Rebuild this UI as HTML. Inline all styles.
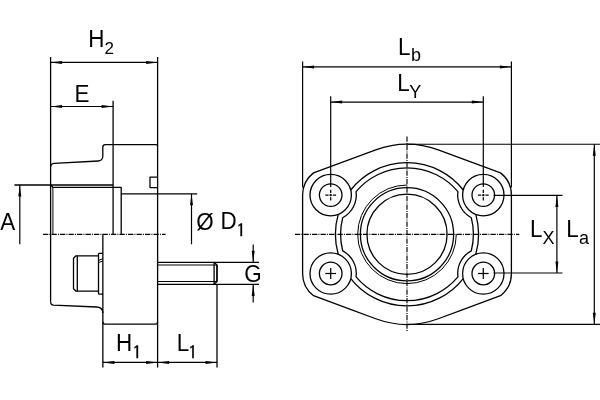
<!DOCTYPE html>
<html><head><meta charset="utf-8"><title>Flange drawing</title>
<style>
html,body{margin:0;padding:0;background:#fff;}
svg{display:block;}
.o{fill:none;stroke:#000;stroke-width:1.3;stroke-linecap:butt;stroke-linejoin:round;}
.t{fill:none;stroke:#000;stroke-width:1.0;}
.d{fill:none;stroke:#000;stroke-width:1.2;}
.x{fill:none;stroke:#000;stroke-width:1.25;stroke-dasharray:3.3 0.9 2.4 0.9 3.3;}
.c{fill:none;stroke:#000;stroke-width:1.15;stroke-dasharray:5.3 1.1 1 1.1;}
.s{stroke-dasharray:none;}
.a{fill:#000;stroke:none;}
text{font-family:"Liberation Sans",sans-serif;fill:#000;}
text.n{font-family:"IPAGothic","Liberation Sans",sans-serif;stroke:#000;stroke-width:0.35;}
</style></head><body>
<svg width="600" height="400" viewBox="0 0 600 400">
<rect width="600" height="400" fill="#fff"/>
<g style="opacity:0.999">
<line class="o" x1="50.6" y1="57" x2="50.6" y2="301.5"/>
<line class="o" x1="157.6" y1="57" x2="157.6" y2="367.5"/>
<line class="o" x1="113.1" y1="100.8" x2="113.1" y2="234.3"/>
<line class="o" x1="102.85" y1="234.3" x2="102.85" y2="367.5"/>
<line class="o" x1="217" y1="284.4" x2="217" y2="367.5"/>
<path class="o" d="M50.6 167 Q50.6 163.6 54 163.3 L98.3 161.0 Q102.7 160.7 102.8 156.3 L102.8 147.2 Q102.8 144.7 105.6 144.7 L156.1 144.7 Q157.6 144.7 157.6 146"/>
<path class="o" d="M50.6 301.5 Q50.6 305 53.6 305.2 L96.5 307.0 Q102.85 307.2 102.85 313"/>
<path class="o" d="M102.85 321.7 Q102.85 324.2 105.35 324.2 L155.1 324.2 Q157.6 324.2 157.6 321.7"/>
<line class="o" x1="14.4" y1="185" x2="113.1" y2="185"/>
<path class="o" d="M51 185 L52.8 187.3 L121.2 187.3 L121.2 234.3"/>
<line class="t" x1="52.9" y1="187.3" x2="52.9" y2="234.3"/>
<line class="o" x1="121.2" y1="193.8" x2="197.2" y2="193.8"/>
<path class="o" d="M157.6 177.2 L150 177.2 L150 187.6 L157.6 187.6"/>
<line class="c" x1="43" y1="234.3" x2="165.5" y2="234.3"/>
<path class="o" d="M98.5 255.8 L76 255.8 L73.5 258.3 L73.5 288.7 L76 291.2 L98.5 291.2"/>
<line class="o" x1="77.3" y1="255.8" x2="77.3" y2="291.2"/>
<line class="o" x1="98.5" y1="253.3" x2="98.5" y2="294.2"/>
<path class="o" d="M102.85 253.3 L98.5 253.3 M98.5 294.2 L102.85 294.2"/>
<path class="t" d="M98.5 260.3 L102.85 258.8 M98.5 262.6 L102.85 261.0"/>
<path class="o" d="M157.6 262.3 L259 262.3 M157.6 284.4 L259 284.4"/>
<path class="t" d="M157.6 265 L217.0 265 M157.6 281.5 L217.0 281.5"/>
<path class="o" d="M214.1 262.3 L217.0 265 L217.0 281.5 L214.1 284.4"/>
<line class="o" x1="214.1" y1="262.3" x2="214.1" y2="284.4"/>
<line class="o" x1="217" y1="265" x2="217" y2="281.5"/>
<line class="d" x1="50.6" y1="62.4" x2="157.6" y2="62.4"/>
<polygon class="a" points="50.6,62.4 62.1,60.9 62.1,63.9"/>
<polygon class="a" points="157.6,62.4 146.1,63.9 146.1,60.9"/>
<line class="d" x1="50.6" y1="106.5" x2="113.1" y2="106.5"/>
<polygon class="a" points="50.6,106.5 62.1,105 62.1,108"/>
<polygon class="a" points="113.1,106.5 101.6,108 101.6,105"/>
<line class="d" x1="19.8" y1="185" x2="19.8" y2="244.3"/>
<polygon class="a" points="19.8,185 21.3,196.5 18.3,196.5"/>
<line class="d" x1="191.5" y1="193.8" x2="191.5" y2="244.3"/>
<polygon class="a" points="191.5,193.8 193,205.3 190,205.3"/>
<line class="d" x1="253.2" y1="244.5" x2="253.2" y2="262.3"/>
<polygon class="a" points="253.2,262.3 251.7,250.8 254.7,250.8"/>
<line class="d" x1="253.2" y1="284.4" x2="253.2" y2="302.5"/>
<polygon class="a" points="253.2,284.4 254.7,295.9 251.7,295.9"/>
<line class="d" x1="102.85" y1="362.4" x2="217" y2="362.4"/>
<polygon class="a" points="102.85,362.4 114.35,360.9 114.35,363.9"/>
<polygon class="a" points="157.6,362.4 146.1,363.9 146.1,360.9"/>
<polygon class="a" points="157.6,362.4 169.1,360.9 169.1,363.9"/>
<polygon class="a" points="217,362.4 205.5,363.9 205.5,360.9"/>
<path class="o" d="M302.6 195.1 A28.1 28.1 0 0 1 313.51 172.87 L375.76 149.84 A90.05 90.05 0 0 1 438.24 149.84 L500.49 172.87 A28.1 28.1 0 0 1 511.4 195.1 L511.4 273.5 A28.1 28.1 0 0 1 500.49 295.73 L438.24 318.76 A90.05 90.05 0 0 1 375.76 318.76 L313.51 295.73 A28.1 28.1 0 0 1 302.6 273.5 Z"/>
<circle class="o" cx="330.7" cy="195.1" r="20.7"/>
<circle class="o" cx="330.7" cy="195.1" r="11.3"/>
<line class="x" x1="325.3" y1="195.1" x2="336.1" y2="195.1"/>
<line class="x" x1="330.7" y1="189.7" x2="330.7" y2="200.5"/>
<circle class="o" cx="483.3" cy="195.1" r="20.7"/>
<circle class="o" cx="483.3" cy="195.1" r="11.3"/>
<line class="x" x1="477.9" y1="195.1" x2="488.7" y2="195.1"/>
<line class="x" x1="483.3" y1="189.7" x2="483.3" y2="200.5"/>
<circle class="o" cx="330.7" cy="273.5" r="20.7"/>
<circle class="o" cx="330.7" cy="273.5" r="11.3"/>
<line class="x s" x1="325.3" y1="273.5" x2="336.1" y2="273.5"/>
<line class="x s" x1="330.7" y1="268.1" x2="330.7" y2="278.9"/>
<circle class="o" cx="483.3" cy="273.5" r="20.7"/>
<circle class="o" cx="483.3" cy="273.5" r="11.3"/>
<line class="x s" x1="477.9" y1="273.5" x2="488.7" y2="273.5"/>
<line class="x s" x1="483.3" y1="268.1" x2="483.3" y2="278.9"/>
<path class="o" d="M350.76 189.99 A71.6 71.6 0 0 1 463.24 189.99"/>
<path class="o" d="M350.76 278.61 A71.6 71.6 0 0 0 463.24 278.61"/>
<path class="o" d="M338.23 214.38 A71.6 71.6 0 0 0 338.23 254.22"/>
<path class="o" d="M475.77 214.38 A71.6 71.6 0 0 1 475.77 254.22"/>
<path class="o" d="M356.07 191.69 A66.4 66.4 0 0 1 457.93 191.69 A25.6 25.6 0 0 0 471.29 217.71 A66.4 66.4 0 0 1 471.29 250.89 A25.6 25.6 0 0 0 457.93 276.91 A66.4 66.4 0 0 1 356.07 276.91 A25.6 25.6 0 0 0 342.71 250.89 A66.4 66.4 0 0 1 342.71 217.71 A25.6 25.6 0 0 0 356.07 191.69 Z"/>
<circle class="o" cx="407" cy="234.3" r="46.6"/>
<circle class="o" cx="407" cy="234.3" r="40.1"/>
<path class="t" d="M407 185 A49.3 49.3 0 1 0 456.3 234.3"/>
<line class="c" x1="295" y1="234.3" x2="519.3" y2="234.3"/>
<line class="c" x1="407" y1="136.5" x2="407" y2="331.6"/>
<line class="d" x1="302.6" y1="61.5" x2="302.6" y2="187.5"/>
<line class="d" x1="511.4" y1="61.5" x2="511.4" y2="187.5"/>
<line class="d" x1="330.7" y1="96.2" x2="330.7" y2="187"/>
<line class="d" x1="483.3" y1="96.2" x2="483.3" y2="187"/>
<line class="d" x1="302.6" y1="66.9" x2="511.4" y2="66.9"/>
<polygon class="a" points="302.6,66.9 314.1,65.4 314.1,68.4"/>
<polygon class="a" points="511.4,66.9 499.9,68.4 499.9,65.4"/>
<line class="d" x1="330.7" y1="102.1" x2="483.3" y2="102.1"/>
<polygon class="a" points="330.7,102.1 342.2,100.6 342.2,103.6"/>
<polygon class="a" points="483.3,102.1 471.8,103.6 471.8,100.6"/>
<line class="d" x1="407" y1="144.25" x2="600" y2="144.25"/>
<line class="d" x1="407" y1="324.35" x2="600" y2="324.35"/>
<line class="d" x1="594.3" y1="144.25" x2="594.3" y2="324.35"/>
<polygon class="a" points="594.3,144.25 595.8,155.75 592.8,155.75"/>
<polygon class="a" points="594.3,324.35 592.8,312.85 595.8,312.85"/>
<line class="d" x1="493.6" y1="195.4" x2="562.5" y2="195.4"/>
<line class="d" x1="493.6" y1="273" x2="562.5" y2="273"/>
<line class="d" x1="556.9" y1="195.4" x2="556.9" y2="273"/>
<polygon class="a" points="556.9,195.4 558.4,206.9 555.4,206.9"/>
<polygon class="a" points="556.9,273 555.4,261.5 558.4,261.5"/>
<text transform="translate(88.2 47.2) scale(0.955 1)" font-size="23.5">H</text>
<text x="104.6" y="54.4" font-size="17">2</text>
<text transform="translate(74.4 101.7) scale(0.955 1)" font-size="23.5">E</text>
<text transform="translate(0.2 229.6) scale(0.955 1)" font-size="23.5">A</text>
<text transform="translate(196.3 229.6) scale(0.955 1)" font-size="23.5">Ø</text>
<text transform="translate(220.5 229.4) scale(0.955 1)" font-size="23.5">D</text>
<text class="n" x="236.5" y="237.2" font-size="18">1</text>
<text transform="translate(244.2 282) scale(0.955 1)" font-size="23.5">G</text>
<text transform="translate(116.1 350.7) scale(0.955 1)" font-size="23.5">H</text>
<text class="n" x="132.6" y="358.5" font-size="18">1</text>
<text transform="translate(176.8 350.5) scale(0.955 1)" font-size="23.5">L</text>
<text class="n" x="188.2" y="358.5" font-size="18">1</text>
<text transform="translate(398 55.2) scale(0.955 1)" font-size="23.5">L</text>
<text x="410.9" y="61.3" font-size="18">b</text>
<text transform="translate(397.3 90.8) scale(0.955 1)" font-size="23.5">L</text>
<text x="409.2" y="97.8" font-size="18">Y</text>
<text transform="translate(530 237.2) scale(0.955 1)" font-size="23.5">L</text>
<text x="542.4" y="244.4" font-size="18">X</text>
<text transform="translate(566.3 237.2) scale(0.955 1)" font-size="23.5">L</text>
<text x="579" y="243.6" font-size="18">a</text>
</g>
</svg>
</body></html>
